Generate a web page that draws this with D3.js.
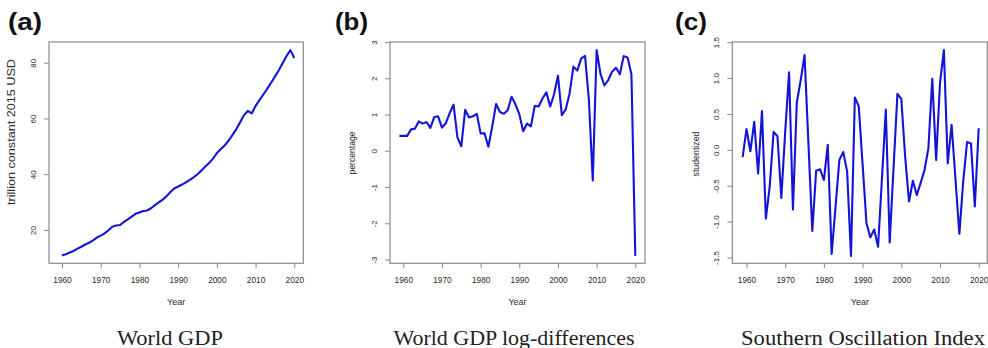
<!DOCTYPE html>
<html>
<head>
<meta charset="utf-8">
<script src="https://cdn.jsdelivr.net/npm/d3@7"></script>
<style>
  body { margin: 0; background: #fff; }
  svg { display: block; }
</style>
</head>
<body>
<div id="container"></div>
<script>
// ---- data ----
var gdpYears = [1960,1961,1962,1963,1964,1965,1966,1967,1968,1969,1970,1971,1972,1973,1974,1975,1976,1977,1978,1979,
  1980,1981,1982,1983,1984,1985,1986,1987,1988,1989,1990,1991,1992,1993,1994,1995,1996,1997,1998,1999,
  2000,2001,2002,2003,2004,2005,2006,2007,2008,2009,2010,2011,2012,2013,2014,2015,2016,2017,2018,2019,2020];
var gdp = [10.9,11.3,11.9,12.5,13.3,14.0,14.8,15.4,16.3,17.3,18.0,18.8,19.9,21.2,21.6,21.8,22.9,23.8,24.8,25.8,
  26.3,26.8,27.0,27.8,28.9,29.9,30.9,32.1,33.6,34.9,35.6,36.3,37.1,38.0,38.9,40.0,41.3,42.8,44.0,45.6,
  47.6,49.0,50.3,52.0,54.0,56.1,58.6,61.2,62.7,61.8,64.5,66.6,68.6,70.6,72.8,75.0,77.3,79.9,82.4,84.5,81.7];

var diffYears = [1959,1960,1961,1962,1963,1964,1965,1966,1967,1968,1969,1970,1971,1972,1973,1974,1975,1976,1977,1978,1979,
  1980,1981,1982,1983,1984,1985,1986,1987,1988,1989,1990,1991,1992,1993,1994,1995,1996,1997,1998,1999,
  2000,2001,2002,2003,2004,2005,2006,2007,2008,2009,2010,2011,2012,2013,2014,2015,2016,2017,2018,2019,2020];
var gdpDiff = [0.41,0.41,0.41,0.59,0.61,0.81,0.75,0.79,0.63,0.93,0.95,0.64,0.76,1.04,1.27,0.37,0.12,1.13,0.92,0.95,1.02,
  0.48,0.48,0.11,0.67,1.29,1.07,1.02,1.12,1.49,1.28,1.01,0.54,0.75,0.67,1.24,1.22,1.44,1.61,1.22,1.56,
  2.07,0.98,1.14,1.58,2.32,2.21,2.54,2.62,1.40,-0.82,2.78,2.12,1.80,1.95,2.18,2.29,2.11,2.61,2.57,2.11,-2.90];

var soiYears = diffYears.slice();
var soi = [-0.10,0.29,-0.02,0.39,-0.33,0.54,-0.96,-0.51,0.25,0.19,-0.67,0.25,1.08,-0.83,0.66,0.97,1.32,0.10,-1.13,-0.29,-0.27,
  -0.42,0.07,-1.45,-0.80,-0.14,-0.03,-0.30,-1.48,0.73,0.61,-0.20,-1.02,-1.22,-1.11,-1.35,-0.40,0.56,-1.29,-0.25,0.78,
  0.71,-0.10,-0.72,-0.43,-0.63,-0.46,-0.28,0.02,0.99,-0.14,0.93,1.39,-0.19,0.35,-0.41,-1.17,-0.44,0.11,0.09,-0.79,0.30];

var yearTicks = [1960,1970,1980,1990,2000,2010,2020];
var gdpTicks = [20,40,60,80];
var diffTicks = [-3,-2,-1,0,1,2,3];
var soiTicks = [-1.5,-1,-0.5,0,0.5,1,1.5];

// ---- layout ----
var w = 988, h = 348;
var svg = d3.select("div#container").append("svg")
  .attr("width", w).attr("height", h)
  .style("background-color", "#fff");

var sans = "'Liberation Sans', Arial, Helvetica, sans-serif";
var serif = "'Liberation Serif', 'Times New Roman', serif";
var blue = "#1414d8";

var panels = [
  { tag: "(a)", tagX: 8, tagW: 34, title: "World GDP", titleX: 170, titleW: 106,
    ylab: "trillion constant 2015 USD", ylabX: 15, ylabY: 132, ylabSize: 10, ylabW: 146,
    box: [49, 303.3], x0: 62, x1: 294.3, yDom: [20, 80], yRng: [230, 62.7],
    years: gdpYears, vals: gdp, ticks: gdpTicks, fmt: function(d) { return String(d); } },
  { tag: "(b)", tagX: 335, tagW: 33, title: "World GDP log-differences", titleX: 514, titleW: 241,
    ylab: "percentage", ylabX: 355, ylabY: 153, ylabSize: 9, ylabW: 43,
    box: [390, 645], x0: 403.3, x1: 635.3, yDom: [-3, 3], yRng: [259.5, 42],
    years: diffYears, vals: gdpDiff, ticks: diffTicks, fmt: function(d) { return String(d); } },
  { tag: "(c)", tagX: 675, tagW: 32, title: "Southern Oscillation Index", titleX: 863, titleW: 244,
    ylab: "studentized", ylabX: 699, ylabY: 154, ylabSize: 9, ylabW: 45,
    box: [732.3, 987.3], x0: 746.5, x1: 978.7, yDom: [-1.5, 1.5], yRng: [257.5, 42.2],
    years: soiYears, vals: soi, ticks: soiTicks, fmt: function(d) { return d.toFixed(1); } }
];
var boxTop = 42, boxBottom = 263.3;

panels.forEach(function(p) {
  var x = d3.scaleLinear().domain([1960, 2020]).range([p.x0, p.x1]);
  var y = d3.scaleLinear().domain(p.yDom).range(p.yRng);
  var g = svg.append("g");

  // box
  g.append("rect")
    .attr("x", p.box[0]).attr("y", boxTop)
    .attr("width", p.box[1] - p.box[0]).attr("height", boxBottom - boxTop)
    .style("fill", "none").style("stroke", "#8a8a8a").style("stroke-width", 1.2);

  // x axis
  var gx = g.append("g").attr("transform", "translate(0," + boxBottom + ")")
    .call(d3.axisBottom(x).tickValues(yearTicks).tickSize(5).tickFormat(d3.format("d")));
  gx.select(".domain").remove();
  gx.selectAll("line").style("stroke", "#8a8a8a");
  gx.selectAll("text").attr("y", 19.5).attr("dy", 0)
    .style("font-family", sans).style("font-size", "8.3px").style("fill", "#2a2a2a");

  // y axis
  var gy = g.append("g").attr("transform", "translate(" + p.box[0] + ",0)")
    .call(d3.axisLeft(y).tickValues(p.ticks).tickSize(5).tickFormat(p.fmt));
  gy.select(".domain").remove();
  gy.selectAll("line").style("stroke", "#8a8a8a");
  gy.selectAll("text")
    .attr("x", 0).attr("y", 0).attr("dy", 0)
    .attr("text-anchor", "middle")
    .attr("transform", "translate(-13,0) rotate(-90)")
    .style("font-family", sans).style("font-size", "8px").style("fill", "#2a2a2a");

  // line
  var line = d3.line()
    .x(function(d) { return x(d[0]); })
    .y(function(d) { return y(d[1]); });
  g.append("path")
    .datum(p.years.map(function(yr, i) { return [yr, p.vals[i]]; }))
    .attr("d", line)
    .style("fill", "none").style("stroke", blue)
    .style("stroke-width", 2.1).style("stroke-linejoin", "round");

  // axis titles
  g.append("text")
    .attr("x", (p.box[0] + p.box[1]) / 2).attr("y", 305)
    .attr("text-anchor", "middle")
    .style("font-family", sans).style("font-size", "9px").style("fill", "#2a2a2a")
    .text("Year");
  g.append("text")
    .attr("transform", "translate(" + p.ylabX + "," + p.ylabY + ") rotate(-90)")
    .attr("text-anchor", "middle")
    .attr("textLength", p.ylabW).attr("lengthAdjust", "spacingAndGlyphs")
    .style("font-family", sans).style("font-size", p.ylabSize + "px").style("fill", "#2a2a2a")
    .text(p.ylab);

  // panel tag
  g.append("text")
    .attr("x", p.tagX).attr("y", 30)
    .attr("textLength", p.tagW).attr("lengthAdjust", "spacingAndGlyphs")
    .style("font-family", sans).style("font-weight", "bold").style("font-size", "23px")
    .style("fill", "#111")
    .text(p.tag);

  // caption below
  g.append("text")
    .attr("x", p.titleX).attr("y", 345)
    .attr("text-anchor", "middle")
    .attr("textLength", p.titleW).attr("lengthAdjust", "spacingAndGlyphs")
    .style("font-family", serif).style("font-size", "20px").style("fill", "#222")
    .text(p.title);
});
</script>
</body>
</html>
